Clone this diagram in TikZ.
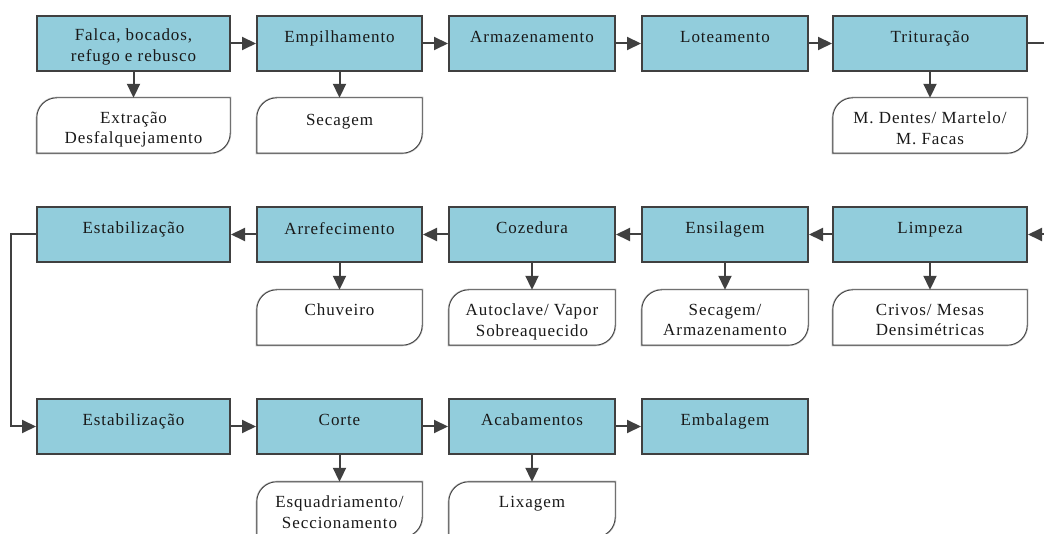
\documentclass[tikz,border=0pt]{standalone}
\usepackage{fontspec}
\setmainfont{Liberation Serif}[LetterSpace=5.5]
\usetikzlibrary{arrows.meta,calc}
\definecolor{boxblue}{HTML}{92CDDC}
\definecolor{linegray}{HTML}{404040}
\definecolor{shadowgray}{HTML}{C4C4C4}
\tikzset{
  mainbox/.style={rectangle, draw=linegray, line width=2pt, fill=boxblue,
    minimum width=#1, minimum height=55pt, inner sep=0pt},
  subbox/.style={rectangle, minimum width=#1, minimum height=55pt, inner sep=0pt},
  lbl/.style={anchor=north, inner sep=0pt, align=center,
    font=\fontsize{17}{20.5}\selectfont, text=black!90},
  flow/.style={draw=linegray, line width=2pt, -{Triangle[length=14pt,width=13pt]}},
  subline/.style={draw=linegray, line width=0.9pt, fill=white},
  subshadow/.style={draw=shadowgray, line width=2.2pt},
}
% outline of a tool box: rounded top-left and bottom-right corners
\newcommand\toolframe[2]{%
  \path[#2] (#1.south west) -- ([yshift=-20pt]#1.north west)
    arc[start angle=180, end angle=90, radius=20pt] -- (#1.north east)
    -- ([yshift=20pt]#1.south east)
    arc[start angle=0, end angle=-90, radius=20pt] -- cycle;}
\begin{document}
\begin{tikzpicture}[x=1pt, y=1pt]
\useasboundingbox (0,0) rectangle (1044,533);
\clip (0,0) rectangle (1044,533);

% process steps, row 1
\node[mainbox=193pt] (b1) at (133.5,489.5) {};
\node[mainbox=165pt] (b2) at (339.5,489.5) {};
\node[mainbox=166pt] (b3) at (532,489.5) {};
\node[mainbox=166pt] (b4) at (725,489.5) {};
\node[mainbox=194pt] (b5) at (930,489.5) {};
% row 2
\node[mainbox=193pt] (c1) at (133.5,298.5) {};
\node[mainbox=165pt] (c2) at (339.5,298.5) {};
\node[mainbox=166pt] (c3) at (532,298.5) {};
\node[mainbox=166pt] (c4) at (725,298.5) {};
\node[mainbox=194pt] (c5) at (930,298.5) {};
% row 3
\node[mainbox=193pt] (d1) at (133.5,106.5) {};
\node[mainbox=165pt] (d2) at (339.5,106.5) {};
\node[mainbox=166pt] (d3) at (532,106.5) {};
\node[mainbox=166pt] (d4) at (725,106.5) {};

% tool boxes
\node[subbox=193pt] (s1) at (133.5,407.5) {};
\node[subbox=165pt] (s2) at (339.5,407.5) {};
\node[subbox=194pt] (s5) at (930,407.5) {};
\node[subbox=165pt] (u2) at (339.5,215.5) {};
\node[subbox=166pt] (u3) at (532,215.5) {};
\node[subbox=166pt] (u4) at (725,215.5) {};
\node[subbox=194pt] (u5) at (930,215.5) {};
\node[subbox=165pt] (v2) at (339.5,23.5) {};
\node[subbox=166pt] (v3) at (532,23.5) {};

\foreach \n in {s1,s2,s5,u2,u3,u4,u5,v2,v3}{
  \begin{scope}[xshift=1.6pt, yshift=-1.6pt]
    \toolframe{\n}{subshadow}
  \end{scope}
  \toolframe{\n}{subline}
}

% step labels
\node[lbl] (b1t) at ([yshift=-14pt]b1.north) {Falca, bocados,\\refugo e rebusco};
\node[lbl] (b2t) at ([yshift=-16pt]b2.north) {Empilhamento};
\node[lbl] (b3t) at ([yshift=-16pt]b3.north) {Armazenamento};
\node[lbl] (b4t) at ([yshift=-16pt]b4.north) {Loteamento};
\node[lbl] (b5t) at ([yshift=-16pt]b5.north) {Trituração};
\node[lbl] (c1t) at ([yshift=-16pt]c1.north) {Estabilização};
\node[lbl] (c2t) at ([yshift=-16pt]c2.north) {Arrefecimento};
\node[lbl] (c3t) at ([yshift=-16pt]c3.north) {Cozedura};
\node[lbl] (c4t) at ([yshift=-16pt]c4.north) {Ensilagem};
\node[lbl] (c5t) at ([yshift=-16pt]c5.north) {Limpeza};
\node[lbl] (d1t) at ([yshift=-16pt]d1.north) {Estabilização};
\node[lbl] (d2t) at ([yshift=-16pt]d2.north) {Corte};
\node[lbl] (d3t) at ([yshift=-16pt]d3.north) {Acabamentos};
\node[lbl] (d4t) at ([yshift=-16pt]d4.north) {Embalagem};

% tool labels
\node[lbl] (s1t) at ([yshift=-14pt]s1.north) {Extração\\Desfalquejamento};
\node[lbl] (s2t) at ([yshift=-16pt]s2.north) {Secagem};
\node[lbl] (s5t) at ([yshift=-14pt]s5.north) {M. Dentes/ Martelo/\\M. Facas};
\node[lbl] (u2t) at ([yshift=-14pt]u2.north) {Chuveiro};
\node[lbl] (u3t) at ([yshift=-14pt]u3.north) {Autoclave/ Vapor\\Sobreaquecido};
\node[lbl] (u4t) at ([yshift=-14pt]u4.north) {Secagem/\\Armazenamento};
\node[lbl] (u5t) at ([yshift=-14pt]u5.north) {Crivos/ Mesas\\Densimétricas};
\node[lbl] (v2t) at ([yshift=-14pt]v2.north) {Esquadriamento/\\Seccionamento};
\node[lbl] (v3t) at ([yshift=-14pt]v3.north) {Lixagem};

% flow between steps
\draw[flow] (b1) -- (b2);
\draw[flow] (b2) -- (b3);
\draw[flow] (b3) -- (b4);
\draw[flow] (b4) -- (b5);
\draw[flow] (b5.east) -- ++(30pt,0) |- (c5.east);
\draw[flow] (c5) -- (c4);
\draw[flow] (c4) -- (c3);
\draw[flow] (c3) -- (c2);
\draw[flow] (c2) -- (c1);
\draw[flow] (c1.west) -- ++(-25pt,0) |- (d1.west);
\draw[flow] (d1) -- (d2);
\draw[flow] (d2) -- (d3);
\draw[flow] (d3) -- (d4);

% steps to their tools
\draw[flow] (b1) -- (s1);
\draw[flow] (b2) -- (s2);
\draw[flow] (b5) -- (s5);
\draw[flow] (c2) -- (u2);
\draw[flow] (c3) -- (u3);
\draw[flow] (c4) -- (u4);
\draw[flow] (c5) -- (u5);
\draw[flow] (d2) -- (v2);
\draw[flow] (d3) -- (v3);
\end{tikzpicture}
\end{document}
